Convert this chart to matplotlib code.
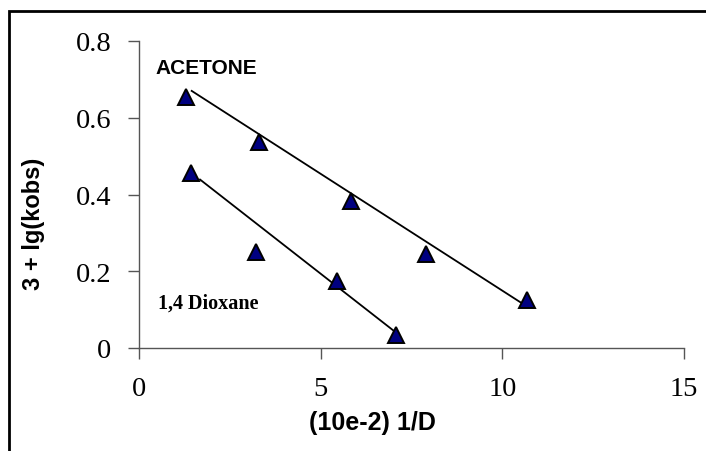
import numpy as np
import matplotlib
matplotlib.use("Agg")
import matplotlib.pyplot as plt
from matplotlib.patches import Rectangle

# Data
acetone_x = [1.29, 3.31, 5.84, 7.91, 10.68]
acetone_y = [0.653, 0.536, 0.384, 0.245, 0.126]
dioxane_x = [1.43, 3.22, 5.45, 7.07]
dioxane_y = [0.455, 0.249, 0.174, 0.034]
# hand-drawn trend lines (end points)
acetone_line_x = [1.45, 10.5]
acetone_line_y = [0.670, 0.119]
dioxane_line_x = [1.68, 7.05]
dioxane_line_y = [0.439, 0.042]
x_ticks = [0, 5, 10, 15]
y_ticks = [0, 0.2, 0.4, 0.6, 0.8]
y_tick_labels = ["0", "0.2", "0.4", "0.6", "0.8"]

fig = plt.figure(figsize=(7.06, 4.52), dpi=100)
ax = fig.add_axes([139/706, 1-349/452, (684-139)/706, (349-42)/452])

for lx, ly in [(acetone_line_x, acetone_line_y), (dioxane_line_x, dioxane_line_y)]:
    ax.plot(lx, ly, color="black", lw=1.3, zorder=2)
for xs, ys in [(acetone_x, acetone_y), (dioxane_x, dioxane_y)]:
    ax.plot(xs, ys, linestyle="none", marker="^", ms=12, mfc="#000080",
            mec="black", mew=1.4, zorder=3, clip_on=False)

ax.set_xlim(0, 15)
ax.set_ylim(0, 0.8)
ax.set_xticks(x_ticks)
ax.set_xticklabels([str(t) for t in x_ticks])
ax.set_yticks(y_ticks)
ax.set_yticklabels(y_tick_labels)
for s in ["top", "right"]:
    ax.spines[s].set_visible(False)
for s in ["left", "bottom"]:
    ax.spines[s].set_color("#555555")
    ax.spines[s].set_linewidth(1.0)
ax.tick_params(direction="out", length=8, width=1.0, color="#555555",
               labelsize=20.5, pad=12)
for lab in ax.get_xticklabels() + ax.get_yticklabels():
    lab.set_family(["Liberation Serif", "DejaVu Serif"])

ax.set_xlabel("(10e-2) 1/D", fontsize=18, fontweight="bold",
              family=["Liberation Sans", "DejaVu Sans"], va="center", ha="center")
ax.xaxis.set_label_coords(0.4275, -0.241)
ax.set_ylabel("3 + lg(kobs)", fontsize=17, fontweight="bold",
              family=["Liberation Sans", "DejaVu Sans"], va="center", ha="center")
ax.yaxis.set_label_coords(-0.1927, 0.407)

ax.text(0.44, 0.732, "ACETONE", fontsize=15, fontweight="bold",
        family=["Liberation Sans", "DejaVu Sans"], va="center", ha="left")
ax.text(0.52, 0.119, "1,4 Dioxane", fontsize=14.5, fontweight="bold",
        family=["Liberation Serif", "DejaVu Serif"], va="center", ha="left")

fig.add_artist(Rectangle((9/706, -0.1), 1.2, 1.1 - 12/452, fill=False,
                         edgecolor="black", lw=2, transform=fig.transFigure,
                         clip_on=False))

fig.savefig("out.png", dpi=100)
